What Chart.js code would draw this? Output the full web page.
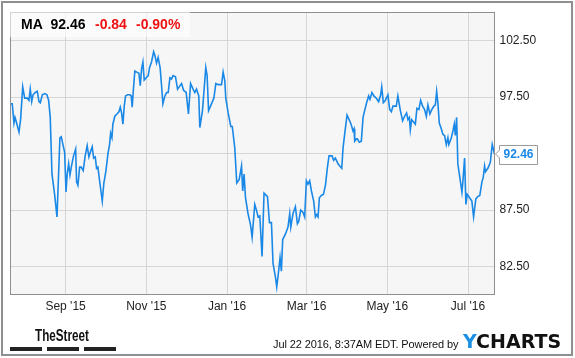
<!DOCTYPE html>
<html>
<head>
<meta charset="utf-8">
<script src="https://cdn.jsdelivr.net/npm/chart.js@4.4.1/dist/chart.umd.min.js"></script>
<style>
  html, body { margin: 0; padding: 0; background: #fff; }
  #wrap { position: relative; width: 575px; height: 358px; overflow: hidden; }
  #c { position: absolute; left: 0; top: 0; }
  .t { position: absolute; white-space: nowrap; font-family: "Liberation Sans", Arial, sans-serif; }
  #hdrbox { position: absolute; left: 10px; top: 10px; width: 180px; height: 27px; background: rgba(255,255,255,0.6); }
  .h { font-size: 14px; line-height: 14px; font-weight: bold; top: 16.5px; }
  .bar { position: absolute; top: 347px; height: 4px; width: 32px; background: #222; }
</style>
</head>
<body>
<div id="wrap">
  <canvas id="c" width="575" height="358"></canvas>
  <div id="hdrbox"></div>
  <span class="t h" style="left:21px;color:#000">MA</span>
  <span class="t h" style="left:50.5px;color:#000">92.46</span>
  <span class="t h" style="left:95px;color:#ee1111">-0.84</span>
  <span class="t h" style="left:136px;color:#ee1111">-0.90%</span>
  <span class="t" style="left:35px;top:328px;font-size:16px;line-height:16px;font-weight:bold;color:#111;transform:scaleX(0.73);transform-origin:0 0;">TheStreet</span>
  <div class="bar" style="left:10px"></div>
  <div class="bar" style="left:47px"></div>
  <div class="bar" style="left:84px"></div>
  <span class="t" style="left:273px;top:339px;font-size:11px;line-height:11px;color:#111;letter-spacing:-0.1px;">Jul 22 2016, 8:37AM EDT. Powered by</span>
  <span class="t" style="left:463px;top:332px;font-size:19px;line-height:19px;font-weight:bold;font-family:'DejaVu Sans',sans-serif;color:#111;"><span style="color:#1a8fe3">Y</span>CHARTS</span>
</div>
<script>
// Days since 2015-07-21 (calendar days) and MA closing prices
const days = [0,1.7,3,3.8,4.8,6.8,8,9.6,11.1,13.1,14.3,15.3,16.4,17.4,19.1,20.6,21.9,22.9,24.4,26.2,27.9,29.2,30.4,31.7,33.7,35.5,36.7,37.7,38.7,40,41.3,42.3,43.2,44.3,45.3,46.3,48,49.6,50.3,51.3,52.6,53.8,55.3,56.8,58.3,59.6,60.9,62.1,63.2,64.4,65.4,66.4,67.9,69.7,70.9,72.5,74,75.2,76,77,77.7,79.2,80.8,82.3,83.3,84.3,85.3,86.3,87.3,88.8,90.6,91.6,92.3,93.3,94.3,95.8,97.4,98.4,99.4,100.4,101.4,102.9,104.4,105.4,106.9,108.5,109.4,110.7,111.9,113.4,114.5,115.5,117,118.3,119.5,120.8,122,123.2,125,126.6,127.8,129.6,131.1,132.1,133.1,134.8,136.4,138.3,139.6,140.9,142.6,143.4,145.4,147.9,148.9,150,152.2,154,155.5,157.2,159.8,161,162.3,163,164.8,166.8,167.9,169.8,171.3,173.1,174.9,175.8,176.8,177.9,179.8,181.7,182.9,184.9,186.2,187.4,188.7,190.4,191.9,194.5,196,197.5,198.7,200.5,201.5,203,204,205,206,208.1,210,211.3,212.1,213.8,215.6,217.1,218.1,219.6,221.4,222.6,223.9,225.1,226.4,227.7,229.4,230.7,231.7,232.7,233.7,235.2,236.8,238.3,239.8,241,243.3,244.5,245.8,247.8,249.1,250.6,251.6,252.8,254.6,256.6,257.9,259.1,259.9,260.4,261.7,262.4,263.9,265.4,266.7,267.9,269.2,270.9,271.9,273.4,274.9,276.7,278.5,280,280.8,282,283.5,285.5,286.8,288.1,289.3,291.8,293,294.9,296.6,298.1,299.6,300.6,301.7,302.4,303.4,304.9,306.2,307.4,308.9,310.2,311.7,313.2,314.5,315.7,317.2,318.7,320.2,321.3,322.3,323.3,324.3,325.8,327,328.3,329.6,330.8,331.5,333.4,334.6,335.6,336.4,337.4,338.3,339.8,341.4,342.1,343.4,344.4,345.4,347.2,348.9,350.2,351.9,353.4,354.9,356.5,357.5,358.5,359.2,361,362.8,364.3,366];
const prices = [96.9,96.9,95.2,95.7,95.3,94.4,95.5,98.4,97.4,97.4,97.2,98.2,97.1,97.7,97.9,98.0,97.1,97.0,97.7,97.8,97.7,97.2,95.7,90.7,88.9,86.9,90.7,93.9,94.0,93.3,92.6,89.1,90.7,91.6,90.6,91.3,92.3,92.9,90.0,89.7,91.3,91.3,91.0,92.3,93.2,92.2,92.7,93.1,92.1,92.2,91.2,91.3,89.9,88.3,89.9,91.0,92.5,93.3,94.3,93.9,95.1,95.8,96.0,96.2,96.6,96.1,95.1,96.7,97.6,97.7,97.7,97.6,96.6,98.3,99.8,99.7,99.6,98.5,100.0,100.6,99.0,99.2,99.4,100.1,100.6,101.5,101.2,100.5,101.0,100.1,98.5,96.9,97.6,97.9,97.9,99.2,99.1,99.4,99.3,98.2,98.4,98.7,98.1,98.0,97.9,96.0,98.7,98.2,97.9,98.2,97.6,94.8,96.3,100.1,99.4,96.3,96.9,97.4,98.7,98.6,98.6,99.7,98.9,97.4,96.1,94.9,94.9,93.0,89.9,90.2,91.4,89.2,90.7,88.6,87.2,86.2,85.1,88.0,87.5,86.9,87.0,83.4,89.0,88.7,86.4,86.4,82.8,81.6,80.7,82.2,83.3,82.1,84.9,85.4,86.0,87.2,86.0,87.2,87.8,86.3,86.5,87.5,87.3,86.9,90.1,89.8,90.1,89.2,88.3,86.9,87.1,86.9,88.6,88.8,88.9,89.7,91.3,92.3,92.3,91.9,92.1,91.6,91.4,91.2,93.0,94.2,95.9,95.4,95.0,94.5,94.7,93.6,93.8,93.8,93.5,93.6,95.7,96.3,96.9,97.6,97.3,97.9,97.6,97.4,97.1,97.7,98.4,97.0,97.2,97.7,96.4,96.2,96.7,96.7,97.6,96.3,95.4,95.8,96.1,95.5,95.7,94.6,95.5,95.3,95.1,96.5,96.4,97.2,96.7,96.4,95.8,96.8,96.0,96.4,96.7,96.8,98.0,96.9,95.2,94.7,94.2,94.1,93.3,93.9,93.3,93.9,94.5,95.1,94.1,95.7,91.6,90.4,89.1,90.0,92.1,88.0,88.9,88.6,88.3,86.9,88.5,88.7,88.8,90.0,90.4,91.4,90.9,91.2,91.7,93.3,92.46];
// Month-start tick positions (days since 2015-07-21) and their labels
const monthTicks = [42, 103, 164, 224, 285, 346];
const monthLabels = ["Sep '15", "Nov '15", "Jan '16", "Mar '16", "May '16", "Jul '16"];
const priceTicks = [82.5, 87.5, 92.5, 97.5, 102.5];
const lastPrice = 92.46;

const LINE = '#1a88e6';
const FONT = '"Liberation Sans", Arial, sans-serif';

const deco = {
  id: 'deco',
  beforeDraw(chart) {
    const { ctx, chartArea: a } = chart;
    ctx.save();
    ctx.fillStyle = '#ffffff';
    ctx.fillRect(0, 0, chart.width, chart.height);
    ctx.fillStyle = '#f6f6f6';
    ctx.fillRect(a.left, a.top, a.right - a.left, a.bottom - a.top);
    ctx.restore();
  },
  afterDraw(chart) {
    const { ctx, chartArea: a } = chart;
    ctx.save();
    // plot frame
    ctx.strokeStyle = '#8f8f8f';
    ctx.lineWidth = 1;
    ctx.strokeRect(Math.round(a.left) + 0.5, Math.round(a.top) + 0.5, Math.round(a.right - a.left) - 1, Math.round(a.bottom - a.top) - 1);
    // outer frame
    ctx.strokeStyle = '#8f8f8f';
    ctx.lineWidth = 2;
    ctx.strokeRect(2, 2, 570, 353);
    // current price label
    const y = chart.scales.y.getPixelForValue(lastPrice);
    const bx = 499, bw = 38, bh = 19;
    ctx.beginPath();
    ctx.moveTo(bx + 0.5, Math.round(y - bh / 2) + 0.5);
    ctx.lineTo(bx + bw + 0.5, Math.round(y - bh / 2) + 0.5);
    ctx.lineTo(bx + bw + 0.5, Math.round(y + bh / 2) + 0.5);
    ctx.lineTo(bx + 0.5, Math.round(y + bh / 2) + 0.5);
    ctx.lineTo(bx + 0.5, y + 4);
    ctx.lineTo(a.right + 1, y);
    ctx.lineTo(bx + 0.5, y - 4);
    ctx.closePath();
    ctx.fillStyle = '#ffffff';
    ctx.fill();
    ctx.strokeStyle = '#9a9a9a';
    ctx.lineWidth = 1;
    ctx.stroke();
    ctx.fillStyle = LINE;
    ctx.font = 'bold 12px ' + FONT;
    ctx.textAlign = 'center';
    ctx.textBaseline = 'middle';
    ctx.fillText(lastPrice.toFixed(2), bx + bw / 2 + 0.5, y + 0.5);
    ctx.restore();
  }
};

new Chart(document.getElementById('c'), {
  type: 'line',
  data: {
    datasets: [{
      data: days.map((d, i) => ({ x: d, y: prices[i] })),
      borderColor: LINE,
      borderWidth: 1.6,
      pointRadius: 0,
      tension: 0,
      fill: false
    }]
  },
  options: {
    responsive: false,
    animation: false,
    devicePixelRatio: 1,
    layout: { padding: { top: 10, left: 10, right: 0, bottom: 0 } },
    plugins: { legend: { display: false }, tooltip: { enabled: false }, title: { display: false } },
    scales: {
      x: {
        type: 'linear', position: 'bottom', min: 0, max: 366,
        afterBuildTicks: s => { s.ticks = monthTicks.map(v => ({ value: v })); },
        afterFit: s => { s.height = 63; },
        ticks: {
          callback: (v, i) => monthLabels[i],
          color: '#222', font: { family: FONT, size: 12 }, padding: 4,
          maxRotation: 0, autoSkip: false
        },
        grid: { color: '#d6d6d6', lineWidth: 1, drawTicks: false },
        border: { display: false }
      },
      y: {
        type: 'linear', position: 'right', min: 80, max: 105,
        afterBuildTicks: s => { s.ticks = priceTicks.map(v => ({ value: v })); },
        afterFit: s => { s.width = 80.5; },
        ticks: {
          callback: v => (v === 92.5 ? '' : v.toFixed(2)),
          color: '#222', font: { family: FONT, size: 12 }, padding: 5
        },
        grid: { color: '#d6d6d6', lineWidth: 1, drawTicks: false },
        border: { display: false }
      }
    }
  },
  plugins: [deco]
});
</script>
</body>
</html>
